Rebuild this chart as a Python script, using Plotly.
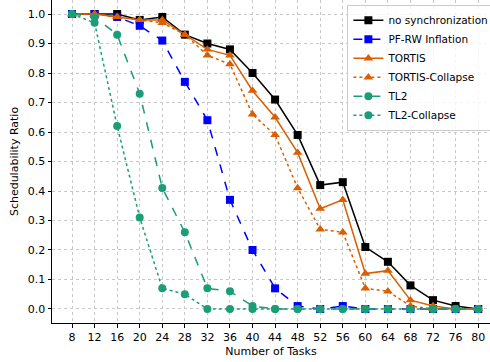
import plotly.graph_objects as go

tasks = [8, 12, 16, 20, 24, 28, 32, 36, 40, 44, 48, 52, 56, 60, 64, 68, 72, 76, 80]
no_sync = [1.0, 1.0, 1.0, 0.98, 0.99, 0.93, 0.90, 0.88, 0.80, 0.71, 0.59, 0.42, 0.43, 0.21, 0.16, 0.08, 0.03, 0.01, 0.0]
pf_rw = [1.0, 1.0, 0.99, 0.96, 0.91, 0.77, 0.64, 0.37, 0.20, 0.07, 0.01, 0.0, 0.01, 0.0, 0.0, 0.0, 0.0, 0.0, 0.0]
tortis = [1.0, 1.0, 0.99, 0.98, 0.98, 0.93, 0.88, 0.86, 0.74, 0.65, 0.53, 0.34, 0.37, 0.12, 0.13, 0.03, 0.01, 0.0, 0.0]
tortis_collapse = [1.0, 1.0, 0.99, 0.98, 0.97, 0.93, 0.86, 0.83, 0.66, 0.59, 0.41, 0.27, 0.26, 0.07, 0.06, 0.01, 0.0, 0.0, 0.0]
tl2 = [1.0, 0.99, 0.93, 0.73, 0.41, 0.26, 0.07, 0.06, 0.01, 0.0, 0.0, 0.0, 0.0, 0.0, 0.0, 0.0, 0.0, 0.0, 0.0]
tl2_collapse = [1.0, 0.97, 0.62, 0.31, 0.07, 0.05, 0.0, 0.0, 0.0, 0.0, 0.0, 0.0, 0.0, 0.0, 0.0, 0.0, 0.0, 0.0, 0.0]

series = [
    ("no synchronization", no_sync, "black", "solid", "square"),
    ("PF-RW Inflation", pf_rw, "#0000ff", "dash", "square"),
    ("TORTIS", tortis, "#d95f02", "solid", "triangle-up"),
    ("TORTIS-Collapse", tortis_collapse, "#d95f02", "dot", "triangle-up"),
    ("TL2", tl2, "#1b9e77", "dash", "circle"),
    ("TL2-Collapse", tl2_collapse, "#1b9e77", "dot", "circle"),
]

fig = go.Figure()
for name, vals, color, dash, sym in series:
    fig.add_trace(go.Scatter(
        x=tasks, y=vals, name=name, mode="lines+markers",
        line=dict(color=color, dash=dash, width=1.5),
        marker=dict(symbol=sym, size=8.5 if sym == "triangle-up" else 8, color=color, line=dict(width=0)),
    ))

fig.update_layout(
    width=490, height=362,
    margin=dict(l=52, r=0, t=0, b=39, autoexpand=False),
    paper_bgcolor="white", plot_bgcolor="white",
    font=dict(family="DejaVu Sans", size=11, color="black"),
    legend=dict(x=1.01, y=0.985, xanchor="right", yanchor="top",
                bgcolor="rgba(255,255,255,0.8)", bordercolor="#cccccc", borderwidth=1,
                font=dict(size=10.5), itemwidth=30, tracegroupgap=0),
    xaxis=dict(range=[4.45, 82.1], tickvals=tasks, showline=True, linecolor="black",
               linewidth=1, ticks="outside", ticklen=3.5, tickcolor="black",
               showgrid=True, gridcolor="#c8c8c8", griddash="dot", gridwidth=1,
               zeroline=False, automargin=False,
               title=dict(text="Number of Tasks", standoff=4, font=dict(size=11))),
    yaxis=dict(range=[-0.0475, 1.0475], tickvals=[0, 0.1, 0.2, 0.3, 0.4, 0.5, 0.6, 0.7, 0.8, 0.9, 1.0],
               tickformat=".1f", showline=True, linecolor="black", linewidth=1,
               ticks="outside", ticklen=3.5, tickcolor="black",
               showgrid=True, gridcolor="#c8c8c8", griddash="dot", gridwidth=1,
               zeroline=False, automargin=False,
               title=dict(text="Schedulability Ratio", standoff=6, font=dict(size=11))),
)

fig.write_html("out.html")
